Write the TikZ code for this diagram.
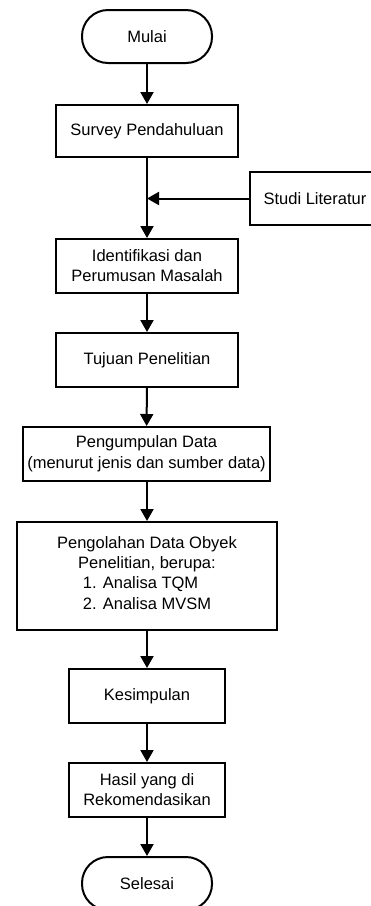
\documentclass[tikz,border=0pt]{standalone}
\usepackage{fontspec}
\setmainfont{Liberation Sans}
\usetikzlibrary{arrows.meta, positioning}

\tikzset{
  flowbox/.style={draw, line width=2pt, align=center, inner sep=2pt,
    font=\fontsize{16.5}{20}\selectfont},
  terminal/.style={flowbox, rounded corners=26pt, minimum width=130pt, minimum height=53pt},
  flowarrow/.style={line width=2pt, -{Triangle[length=12pt, width=13pt]}}
}

\begin{document}
\begin{tikzpicture}[x=1pt, y=-1pt]
  \useasboundingbox (0, 0) rectangle (371, 906);

  % Start and end
  \node[terminal] (mulai) at (147, 36.5) {Mulai};
  \node[terminal] (selesai) at (147, 883.5) {Selesai};

  % Process steps
  \node[flowbox, minimum width=182pt, minimum height=52pt] (survey) at (147, 131) {Survey Pendahuluan};
  \node[flowbox, minimum width=130pt, minimum height=53pt] (studi) at (315, 198.5) {Studi Literatur};
  \node[flowbox, minimum width=182pt, minimum height=54pt] (ident) at (147, 266) {Identifikasi dan\\Perumusan Masalah};
  \node[flowbox, minimum width=182pt, minimum height=54pt] (tujuan) at (147, 360) {Tujuan Penelitian};
  \node[flowbox, minimum width=247pt, minimum height=54pt] (kumpul) at (146.5, 454) {Pengumpulan Data\\[1pt](menurut jenis dan sumber data)};
  \node[flowbox, minimum width=260pt, minimum height=108pt] (olah) at (147, 576) {
    Pengolahan Data Obyek\\
    Penelitian, berupa:\\[1pt]
    \begin{tabular}{@{}l@{}}1. Analisa TQM\\[1pt]2. Analisa MVSM\end{tabular}
  };
  \node[flowbox, minimum width=156pt, minimum height=54pt] (simpul) at (147, 696) {Kesimpulan};
  \node[flowbox, minimum width=156pt, minimum height=54pt] (hasil) at (147, 790) {Hasil yang di\\Rekomendasikan};

  % Connectors
  \coordinate (gabung) at (survey.south |- studi.west);
  \draw[flowarrow] (mulai) -- (survey);
  \draw[flowarrow] (survey) -- (ident);
  \draw[flowarrow] (studi.west) -- (gabung);
  \draw[flowarrow] (ident) -- (tujuan);
  \draw[flowarrow] (tujuan) -- (kumpul);
  \draw[flowarrow] (kumpul.south -| olah.north) -- (olah);
  \draw[flowarrow] (olah) -- (simpul);
  \draw[flowarrow] (simpul) -- (hasil);
  \draw[flowarrow] (hasil) -- (selesai);
\end{tikzpicture}
\end{document}
